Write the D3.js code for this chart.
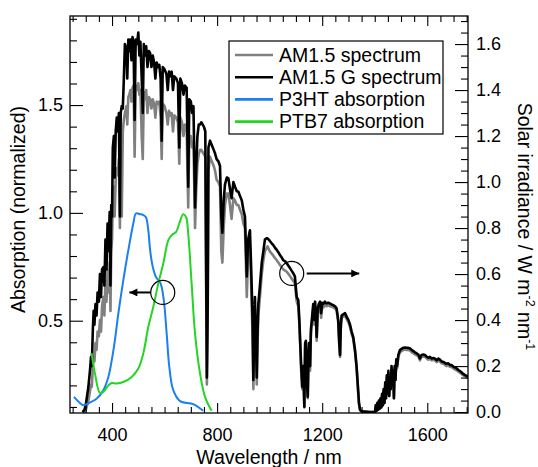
<!DOCTYPE html>
<html>
<head>
<meta charset="utf-8">
<script src="https://cdn.jsdelivr.net/npm/d3@7"></script>
<style>
body { margin: 0; background: #fff; }
text { font-family: "Liberation Sans", Arial, sans-serif; }
</style>
</head>
<body>
<div id="chart"></div>
<script>
// solar spectra (W m-2 nm-1)
var wavelengths = [288,295,300,305,310,316,320,323,327,330,333,337,341,345,350,354,358,362,367,371,375,379,383,387,391,394,397,400,403,407,410,414,418,422,426,430,433,437,441,445,449,455,458,462,466,470,474,478,482,486,490,495,500,504,508,513,517,521,526,530,535,540,545,550,555,560,565,570,575,580,585,589,593,600,607,612,617,622,627,632,637,645,651,656,660,666,672,677,684,687,690,694,700,705,710,716,720,725,730,735,740,745,750,755,759,761,764,767,773,780,787,792,798,805,811,816,820,825,830,837,843,849,855,862,868,875,881,887,894,900,906,913,918,925,929,932,935,938,941,944,947,951,954,957,963,970,976,982,987,992,1000,1007,1014,1020,1027,1033,1039,1046,1052,1059,1065,1072,1078,1084,1090,1096,1103,1109,1113,1116,1120,1124,1128,1132,1135,1138,1141,1145,1148,1150,1154,1157,1162,1166,1170,1173,1176,1179,1183,1187,1192,1196,1200,1204,1210,1216,1223,1230,1236,1242,1249,1255,1261,1265,1268,1271,1274,1280,1287,1293,1300,1306,1312,1318,1325,1331,1336,1340,1344,1350,1380,1401,1404,1407,1410,1413,1416,1419,1422,1425,1428,1431,1434,1437,1440,1443,1446,1449,1452,1455,1458,1461,1464,1467,1470,1473,1476,1479,1482,1485,1490,1496,1502,1509,1515,1521,1528,1534,1541,1547,1553,1560,1566,1572,1578,1585,1591,1597,1604,1610,1617,1623,1630,1636,1642,1648,1655,1661,1667,1673,1680,1686,1693,1699,1705,1712,1718,1725,1731,1737,1744,1750,1755];
var am15G = [0,0.01,0.03,0.07,0.11,0.18,0.24,0.2,0.36,0.44,0.38,0.47,0.42,0.52,0.48,0.6,0.5,0.62,0.63,0.55,0.75,0.62,0.82,0.7,0.87,0.55,0.9,0.85,1.15,1.2,1.02,1.22,1.28,1.22,1.3,0.85,1.3,1.33,1.32,1.45,1.6,1.58,1.45,1.62,1.57,1.62,1.53,1.63,1.6,1.27,1.62,1.6,1.65,1.55,1.61,1.45,1.3,1.6,1.55,1.59,1.5,1.57,1.56,1.5,1.55,1.52,1.45,1.52,1.5,1.51,1.45,1.18,1.5,1.49,1.47,1.4,1.48,1.46,1.48,1.4,1.46,1.45,1.43,1.15,1.45,1.43,1.38,1.42,1.41,1.2,0.98,1.36,1.35,1.3,1.33,0.89,1.05,1.2,1.25,1.25,1.26,1.25,1.24,1.22,0.5,0.15,0.45,1.15,1.18,1.16,1.14,1.125,1.1,1.09,1.07,0.85,0.78,0.92,0.99,1.02,1.016,0.97,0.93,1,0.98,0.96,0.958,0.94,0.92,0.88,0.85,0.59,0.75,0.79,0.65,0.53,0.4,0.14,0.35,0.5,0.35,0.15,0.35,0.47,0.55,0.65,0.7,0.75,0.755,0.755,0.745,0.735,0.726,0.715,0.705,0.695,0.683,0.672,0.66,0.655,0.647,0.635,0.625,0.614,0.603,0.59,0.5,0.487,0.4,0.313,0.2,0.11,0.2,0.023,0.3,0.31,0.15,0.067,0.25,0.3,0.2,0.357,0.42,0.47,0.4,0.48,0.42,0.327,0.45,0.47,0.48,0.43,0.475,0.47,0.48,0.472,0.475,0.472,0.468,0.465,0.46,0.45,0.4,0.3,0.248,0.38,0.42,0.425,0.43,0.415,0.4,0.38,0.35,0.327,0.27,0.197,0.11,0.04,0.01,0.003,0,0,0.03,0.005,0.04,0.01,0.05,0.015,0.06,0.02,0.08,0.03,0.1,0.04,0.13,0.06,0.16,0.08,0.18,0.07,0.15,0.1,0.2,0.12,0.18,0.06,0.2,0.14,0.23,0.2,0.25,0.27,0.275,0.28,0.281,0.28,0.279,0.277,0.27,0.265,0.26,0.255,0.25,0.233,0.248,0.25,0.248,0.242,0.236,0.24,0.233,0.235,0.232,0.225,0.233,0.228,0.22,0.218,0.214,0.21,0.212,0.205,0.204,0.198,0.194,0.19,0.183,0.178,0.172,0.166,0.161,0.157,0.155];
var am15 = [0,0,0.01,0.03,0.05,0.09,0.12,0.11,0.2,0.24,0.22,0.3,0.27,0.35,0.33,0.4,0.35,0.46,0.5,0.42,0.57,0.48,0.62,0.52,0.65,0.44,0.7,0.75,0.92,0.98,0.85,1.02,1.06,1.03,1.1,0.8,1.14,0.85,1.22,1.27,1.3,1.33,1.25,1.37,1.38,1.4,1.35,1.41,1.42,1.11,1.42,1.4,1.43,1.38,1.4,1.2,1.1,1.39,1.36,1.4,1.3,1.37,1.36,1.32,1.36,1.34,1.28,1.35,1.34,1.35,1.28,1.1,1.34,1.33,1.3,1.25,1.31,1.29,1.3,1.22,1.29,1.28,1.26,1.08,1.28,1.26,1.2,1.25,1.24,1.05,0.89,1.2,1.2,1.15,1.17,0.8,0.95,1.08,1.12,1.14,1.14,1.13,1.12,1.11,0.4,0.12,0.38,1.05,1.11,1.09,1.07,1.05,1.01,1,0.98,0.7,0.65,0.8,0.9,0.95,0.95,0.9,0.84,0.93,0.92,0.9,0.9,0.88,0.86,0.82,0.8,0.5,0.68,0.72,0.58,0.45,0.32,0.1,0.3,0.45,0.3,0.12,0.3,0.42,0.5,0.6,0.66,0.7,0.71,0.72,0.7,0.69,0.68,0.67,0.66,0.65,0.64,0.63,0.62,0.615,0.61,0.6,0.59,0.58,0.57,0.56,0.48,0.46,0.38,0.3,0.18,0.1,0.18,0.02,0.28,0.29,0.13,0.06,0.23,0.28,0.18,0.34,0.4,0.45,0.38,0.46,0.4,0.31,0.43,0.45,0.46,0.41,0.46,0.455,0.465,0.46,0.465,0.46,0.458,0.455,0.45,0.44,0.39,0.29,0.24,0.37,0.41,0.415,0.42,0.405,0.39,0.37,0.34,0.32,0.26,0.19,0.1,0.035,0.01,0.003,0,0,0.025,0.005,0.035,0.01,0.045,0.015,0.055,0.02,0.075,0.03,0.095,0.04,0.12,0.06,0.15,0.08,0.17,0.07,0.14,0.1,0.19,0.12,0.17,0.06,0.19,0.14,0.22,0.19,0.24,0.26,0.265,0.27,0.272,0.27,0.27,0.268,0.26,0.256,0.251,0.246,0.242,0.225,0.24,0.242,0.24,0.234,0.228,0.232,0.225,0.227,0.224,0.217,0.225,0.22,0.212,0.21,0.206,0.2,0.204,0.197,0.196,0.19,0.186,0.182,0.176,0.171,0.165,0.16,0.155,0.151,0.15];

// film absorption (normalized)
var p3htWl  = [255,291,303,342,367,386,399,411,424,443,462,481,491,506,519,529,538,545,555,567,585,597,608,618,633,659,709,747];
var p3htAbs = [0.147,0.108,0.113,0.139,0.178,0.239,0.317,0.41,0.533,0.688,0.827,0.951,0.997,0.994,0.99,0.98,0.92,0.827,0.75,0.703,0.672,0.595,0.44,0.286,0.178,0.127,0.113,0.082];
var ptb7Wl  = [322,335,354,367,386,399,418,443,475,500,519,538,557,576,595,614,627,644,656,671,682,690,703,716,735,754,779];
var ptb7Abs = [0.35,0.255,0.165,0.17,0.2,0.211,0.209,0.216,0.239,0.278,0.348,0.471,0.564,0.672,0.765,0.873,0.897,0.912,0.951,0.994,0.98,0.904,0.672,0.44,0.255,0.147,0.082];

var legendLabels = ["AM1.5 spectrum", "AM1.5 G spectrum", "P3HT absorption", "PTB7 absorption"];
var legendColors = ["#808080", "#000000", "#1a7ff0", "#22d622"];

var xMajor = [400, 800, 1200, 1600];
var absMajor = [0.5, 1.0, 1.5];
var irrMajor = [0.0, 0.2, 0.4, 0.6, 0.8, 1.0, 1.2, 1.4, 1.6];

// circled points and arrow ends: [wavelength, value, arrow start, arrow tip]
var absMarker = [593, 0.631, 548, 466];
var irrMarker = [1084, 0.603, 1141, 1341];

function init() {
    var w = 538, h = 467;
    var left = 70, right = 468, top = 16, bottom = 413;

    var svg = d3.select("#chart").append("svg")
        .attr("width", w).attr("height", h);

    var xscale = d3.scaleLinear().domain([240, 1755]).range([left, right]);
    var yAbs = d3.scaleLinear().domain([0.072, 1.913]).range([bottom, top]);
    var yIrr = d3.scaleLinear().domain([-0.004, 1.722]).range([bottom, top]);

    svg.append("defs").append("clipPath").attr("id", "plot")
        .append("rect").attr("x", left).attr("y", top)
        .attr("width", right - left).attr("height", bottom - top);

    var g = svg.append("g").attr("clip-path", "url(#plot)");

    var irrLine = d3.line().x(function(d){ return xscale(d[0]); })
                           .y(function(d){ return yIrr(d[1]); });
    var absLine = d3.line().curve(d3.curveCatmullRom)
                           .x(function(d){ return xscale(d[0]); })
                           .y(function(d){ return yAbs(d[1]); });

    g.append("path").datum(d3.zip(wavelengths, am15))
        .attr("d", irrLine).attr("fill", "none")
        .attr("stroke", legendColors[0]).attr("stroke-width", 2.6)
        .attr("stroke-linejoin", "round");
    g.append("path").datum(d3.zip(wavelengths, am15G))
        .attr("d", irrLine).attr("fill", "none")
        .attr("stroke", legendColors[1]).attr("stroke-width", 2.6)
        .attr("stroke-linejoin", "round");
    g.append("path").datum(d3.zip(p3htWl, p3htAbs))
        .attr("d", absLine).attr("fill", "none")
        .attr("stroke", legendColors[2]).attr("stroke-width", 2);
    g.append("path").datum(d3.zip(ptb7Wl, ptb7Abs))
        .attr("d", absLine).attr("fill", "none")
        .attr("stroke", legendColors[3]).attr("stroke-width", 2);

    // axes
    function range(a, b, s) { return d3.range(Math.round(a / s), Math.round(b / s) + 1).map(function(i){ return +(i * s).toFixed(3); }); }
    var xMinor = range(250, 1750, 50).filter(function(v){ return xMajor.indexOf(v) < 0; });
    var absMinor = range(0.1, 1.9, 0.1).filter(function(v){ return absMajor.indexOf(v) < 0; });
    var irrMinor = range(0, 1.7, 0.05).filter(function(v){ return irrMajor.indexOf(v) < 0; });

    function addAxis(axis, tr) {
        var a = svg.append("g").attr("transform", tr).call(axis);
        a.select(".domain").remove();
        a.selectAll("line").attr("stroke", "#000").attr("stroke-width", 1.1);
        a.selectAll("text").attr("font-size", 18).attr("fill", "#000")
            .style("font-family", "'Liberation Sans', Arial, sans-serif");
        return a;
    }

    addAxis(d3.axisBottom(xscale).tickValues(xMajor).tickSize(-10).tickSizeOuter(0).tickPadding(15).tickFormat(d3.format("d")), "translate(0," + bottom + ")");
    addAxis(d3.axisBottom(xscale).tickValues(xMinor).tickSize(-6).tickSizeOuter(0).tickFormat(""), "translate(0," + bottom + ")");
    addAxis(d3.axisTop(xscale).tickValues(xMajor).tickSize(-10).tickSizeOuter(0).tickFormat(""), "translate(0," + top + ")");
    addAxis(d3.axisTop(xscale).tickValues(xMinor).tickSize(-6).tickSizeOuter(0).tickFormat(""), "translate(0," + top + ")");

    addAxis(d3.axisLeft(yAbs).tickValues(absMajor).tickSize(-13).tickSizeOuter(0).tickPadding(7).tickFormat(d3.format(".1f")), "translate(" + left + ",0)");
    addAxis(d3.axisLeft(yAbs).tickValues(absMinor).tickSize(-7).tickSizeOuter(0).tickFormat(""), "translate(" + left + ",0)");

    addAxis(d3.axisRight(yIrr).tickValues(irrMajor).tickSize(-13).tickSizeOuter(0).tickPadding(8).tickFormat(d3.format(".1f")), "translate(" + right + ",0)");
    addAxis(d3.axisRight(yIrr).tickValues(irrMinor).tickSize(-7).tickSizeOuter(0).tickFormat(""), "translate(" + right + ",0)");

    svg.append("rect").attr("x", left).attr("y", top)
        .attr("width", right - left).attr("height", bottom - top)
        .attr("fill", "none").attr("stroke", "#000").attr("stroke-width", 1.3);

    // axis titles
    svg.append("text").attr("x", (left + right) / 2).attr("y", 464)
        .attr("text-anchor", "middle").attr("font-size", 19.5)
        .text("Wavelength / nm");
    svg.append("text").attr("transform", "translate(25," + ((top + bottom) / 2 - 5) + ") rotate(-90)")
        .attr("text-anchor", "middle").attr("font-size", 19.5)
        .text("Absorption (normalized)");
    var rt = svg.append("text").attr("transform", "translate(518," + ((top + bottom) / 2 + 12) + ") rotate(90)")
        .attr("text-anchor", "middle").attr("font-size", 19.5);
    rt.append("tspan").text("Solar irradiance / W m");
    rt.append("tspan").attr("font-size", 12.5).attr("dy", -8).text("-2");
    rt.append("tspan").attr("dy", 8).text(" nm");
    rt.append("tspan").attr("font-size", 12.5).attr("dy", -8).text("-1");

    // markers: circles and arrows
    var defs = svg.select("defs");
    defs.append("marker").attr("id", "head").attr("viewBox", "0 0 10 10")
        .attr("refX", 10).attr("refY", 5).attr("markerWidth", 10).attr("markerHeight", 8)
        .attr("markerUnits", "userSpaceOnUse").attr("orient", "auto")
        .append("path").attr("d", "M0,0L10,5L0,10Z").attr("fill", "#000");

    [[absMarker, yAbs], [irrMarker, yIrr]].forEach(function(m) {
        var d = m[0], ys = m[1];
        svg.append("circle").attr("cx", xscale(d[0])).attr("cy", ys(d[1])).attr("r", 12)
            .attr("fill", "none").attr("stroke", "#000").attr("stroke-width", 1.2);
        svg.append("line").attr("x1", xscale(d[2])).attr("x2", xscale(d[3]))
            .attr("y1", ys(d[1])).attr("y2", ys(d[1]))
            .attr("stroke", "#000").attr("stroke-width", 2).attr("marker-end", "url(#head)");
    });

    // legend
    var lg = svg.append("g");
    lg.append("rect").attr("x", 229).attr("y", 41).attr("width", 214).attr("height", 93)
        .attr("fill", "#fff").attr("stroke", "#000").attr("stroke-width", 1.2);
    legendLabels.forEach(function(lab, i) {
        var yy = 55 + i * 22.2;
        lg.append("line").attr("x1", 235).attr("x2", 273).attr("y1", yy).attr("y2", yy)
            .attr("stroke", legendColors[i]).attr("stroke-width", 2.6);
        lg.append("text").attr("x", 279).attr("y", yy).attr("dy", "0.35em")
            .attr("font-size", 19.5).text(lab);
    });
}

window.onload = init;
</script>
</body>
</html>
